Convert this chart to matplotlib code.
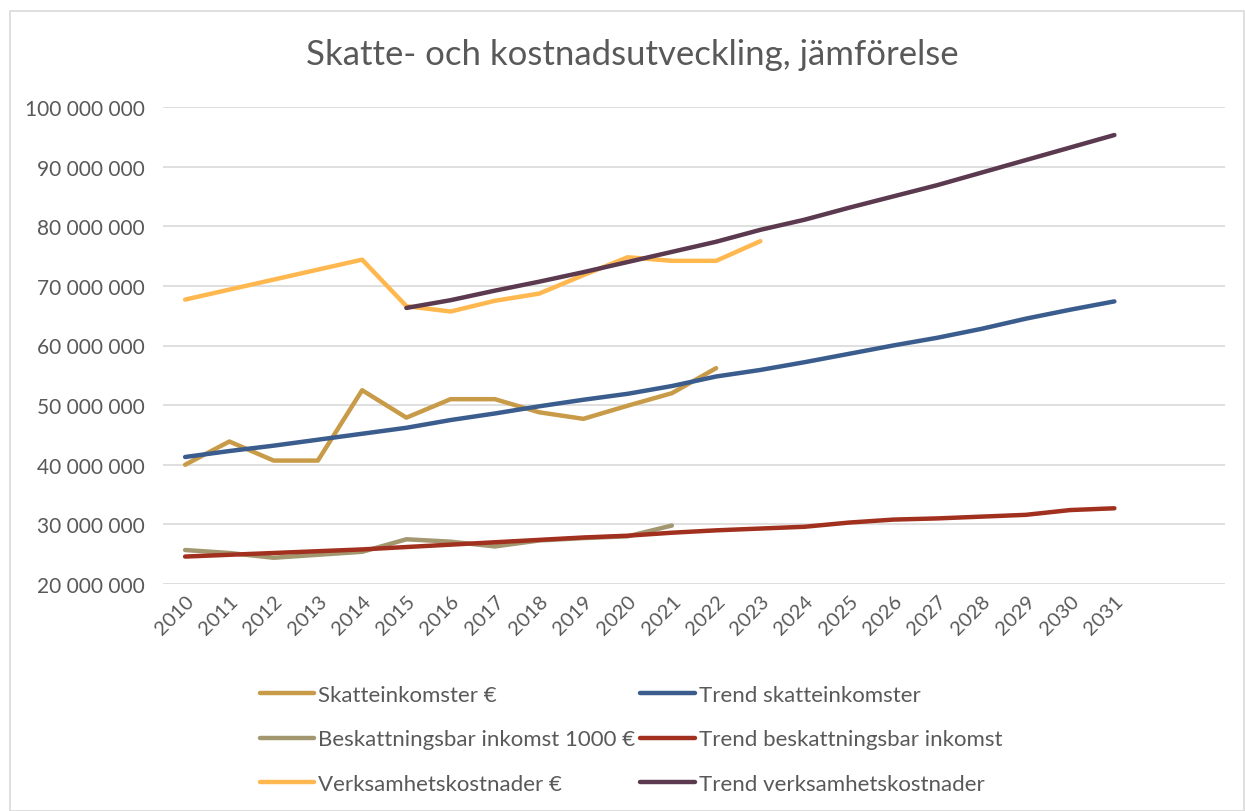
import matplotlib
matplotlib.use("Agg")
import matplotlib.pyplot as plt
import numpy as np
from matplotlib.patches import Rectangle

plt.rcParams['font.family'] = ['Lato', 'DejaVu Sans']

years = [str(y) for y in range(2010, 2032)] + ["", ""]

skatteinkomster = [40.0, 43.9, 40.7, 40.7, 52.5, 47.9, 51.0, 51.0, 48.8, 47.7, 49.9, 52.0, 56.2]
trend_skatte = [41.3, 42.3, 43.2, 44.2, 45.2, 46.2, 47.5, 48.6, 49.8, 50.9, 51.9, 53.2, 54.8, 55.9,
                57.2, 58.6, 60.0, 61.3, 62.8, 64.5, 66.0, 67.4]
beskattningsbar = [25.7, 25.2, 24.4, 24.9, 25.4, 27.5, 27.1, 26.3, 27.3, 27.7, 28.0, 29.8]
trend_besk = [24.6, 24.9, 25.2, 25.5, 25.8, 26.2, 26.6, 27.0, 27.4, 27.8, 28.1, 28.6,
              29.0, 29.3, 29.6, 30.3, 30.8, 31.0, 31.3, 31.6, 32.4, 32.7]
verksamhet = [67.7, None, None, None, 74.4, 66.6, 65.7, 67.5, 68.7, 71.8, 74.8, 74.2, 74.2, 77.5]
trend_verks_start = 5  # 2015
trend_verks = [66.3, 67.6, 69.2, 70.7, 72.3, 74.0, 75.7, 77.4, 79.4, 81.1, 83.1, 85.0, 86.9,
               89.0, 91.1, 93.2, 95.3]

C_SK = '#C89B48'
C_TSK = '#3A5D8E'
C_BES = '#A39770'
C_TBES = '#A2301F'
C_VER = '#FFB84F'
C_TVER = '#5B3A4F'

fig = plt.figure(figsize=(12.45, 8.12), dpi=100)
fig.patches.append(Rectangle((10/1245, 0), 1 - 10/1245 - 0.001, 1 - 12/812, transform=fig.transFigure,
                             fill=False, edgecolor='#D9D9D9', lw=1.2))
ax = fig.add_axes([163/1245, 1 - 585/812, (1225 - 163)/1245, (585 - 108)/812])

def series(vals, start=0):
    x = [i + start for i, v in enumerate(vals) if v is not None]
    y = [v * 1e6 for v in vals if v is not None]
    return x, y

lw = 3.2
h = {}
x, y = series(skatteinkomster); h['sk'], = ax.plot(x, y, color=C_SK, lw=lw, solid_capstyle='round', label='Skatteinkomster €')
x, y = series(beskattningsbar); h['bes'], = ax.plot(x, y, color=C_BES, lw=lw, solid_capstyle='round', label='Beskattningsbar inkomst 1000 €')
x, y = series(verksamhet); h['ver'], = ax.plot(x, y, color=C_VER, lw=lw, solid_capstyle='round', label='Verksamhetskostnader €')
x, y = series(trend_skatte); h['tsk'], = ax.plot(x, y, color=C_TSK, lw=lw, solid_capstyle='round', label='Trend skatteinkomster')
x, y = series(trend_besk); h['tbes'], = ax.plot(x, y, color=C_TBES, lw=lw, solid_capstyle='round', label='Trend beskattningsbar inkomst')
x, y = series(trend_verks, trend_verks_start); h['tver'], = ax.plot(x, y, color=C_TVER, lw=lw, solid_capstyle='round', label='Trend verksamhetskostnader')

for k in ['tsk', 'tbes', 'tver']:
    h[k].set_zorder(3)

ax.set_xlim(-0.5, len(years) - 0.5)
ax.set_ylim(20e6, 100e6)
ax.set_yticks(np.arange(20e6, 100e6 + 1, 10e6))
ax.set_yticklabels([f"{int(v):,}".replace(",", " ") for v in np.arange(20e6, 100e6 + 1, 10e6)])
ax.set_xticks(range(len(years)))
ax.set_xticklabels(years, rotation=45, ha='right', rotation_mode='anchor')
ax.tick_params(axis='y', length=0, labelsize=15, colors='#595959', pad=13)
ax.tick_params(axis='x', length=0, labelsize=14.5, colors='#595959', pad=6)
ax.grid(axis='y', color='#D9D9D9', lw=1.2)
ax.set_axisbelow(True)
for s in ax.spines.values():
    s.set_visible(False)

fig.text(632/1245, 1 - 55/812, 'Skatte- och kostnadsutveckling, jämförelse', ha='center', va='center',
         fontsize=25, color='#595959')

handles = [h['sk'], h['bes'], h['ver'], h['tsk'], h['tbes'], h['tver']]
leg = fig.legend(handles=handles, labels=[l.get_label() for l in handles], ncol=2,
                 loc='upper left', bbox_to_anchor=(260/1245, 1 - 686/812), frameon=False,
                 fontsize=16, labelcolor='#595959', handlelength=2.45, handletextpad=0.18,
                 columnspacing=0.22, labelspacing=1.1, borderpad=0, borderaxespad=0)

fig.savefig('out.png', dpi=100)
